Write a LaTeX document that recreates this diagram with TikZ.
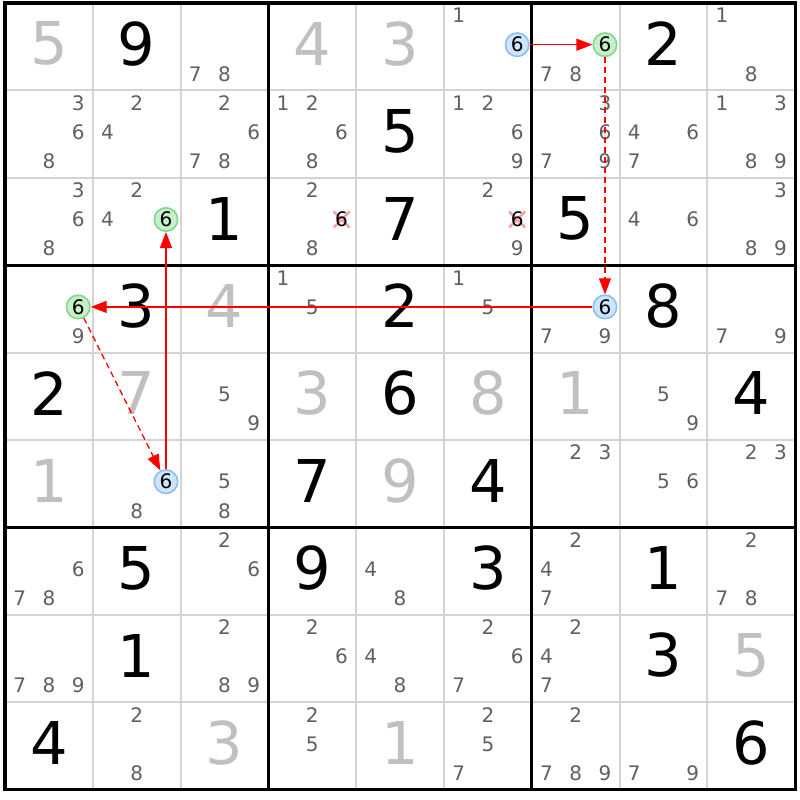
\documentclass[tikz,border=0pt]{standalone}
\usepackage{fontspec}
\setmainfont{DejaVu Sans}
\usetikzlibrary{arrows.meta}
\definecolor{givgray}{RGB}{192,192,192}
\definecolor{candgray}{RGB}{96,96,96}
\definecolor{thingrid}{RGB}{212,212,212}
\definecolor{hlgreenfill}{RGB}{200,240,200}
\definecolor{hlgreendraw}{RGB}{130,215,140}
\definecolor{hlbluefill}{RGB}{205,228,255}
\definecolor{hlbluedraw}{RGB}{140,190,240}
\definecolor{xpink}{RGB}{242,160,160}
\definecolor{chainred}{RGB}{255,0,0}
\tikzset{
  bigdig/.style={font=\fontsize{59}{59}\selectfont, inner sep=0pt},
  solved/.style={bigdig, text=black},
  given/.style={bigdig, text=givgray},
  cand/.style={font=\fontsize{20}{20}\selectfont, inner sep=0pt, text=candgray},
  candblack/.style={cand, text=black},
  hlgreen/.style={circle, minimum size=23.5pt, inner sep=0pt, fill=hlgreenfill, draw=hlgreendraw, line width=1.6pt, font=\fontsize{20}{20}\selectfont, text=black},
  hlblue/.style={circle, minimum size=23.5pt, inner sep=0pt, fill=hlbluefill, draw=hlbluedraw, line width=1.6pt, font=\fontsize{20}{20}\selectfont, text=black},
  thinline/.style={draw=thingrid, line width=2pt},
  thickline/.style={draw=black, line width=3.2pt, line cap=rect},
  xmark/.style={draw=xpink, line width=2.5pt},
  chain/.style={draw=chainred, line width=1.3pt, -{Triangle[length=16pt,width=12pt]}},
  weakchain/.style={chain, dash pattern=on 6pt off 4pt},
}
% cell geometry
\newcommand\cellx[1]{5+(#1-1)*87.8}
\newcommand\celly[1]{3+(#1-1)*87.4}
% big digit: row, col, digit, style
\newcommand\bigdigit[4]{\node[#4] (g#1#2) at ({\cellx{#2}+43.9},{\celly{#1}+43.7-3}) {#3};}
% candidate coordinate: row col pos -> coordinate named p<r><c><pos>
\newcommand\candpos[3]{%
  \pgfmathtruncatemacro\subk{mod(#3-1,3)}%
  \pgfmathtruncatemacro\subm{div(#3-1,3)}%
  \coordinate (p#1#2#3) at ({\cellx{#2}+(\subk+0.5)*29.27},{\celly{#1}+(\subm+0.5)*29.13-2});}
\newcommand\cands[3]{\foreach \pp in {#3}{\candpos{#1}{#2}{\pp}\node[cand] (k#1#2\pp) at (p#1#2\pp) {\pp};}}
\begin{document}
\begin{tikzpicture}[x=1pt,y=-1pt]
\useasboundingbox[fill=white] (0,0) rectangle (800,800);
% thin grid
\foreach \i in {1,2,4,5,7,8}{
  \draw[thinline] ({5+\i*87.8},3) -- ({5+\i*87.8},789.6);
  \draw[thinline] (5,{3+\i*87.4}) -- (795,{3+\i*87.4});
}
% thick grid
\foreach \i in {0,3,6,9}{
  \draw[thickline] ({5+\i*87.8},3) -- ({5+\i*87.8},789.6);
  \draw[thickline] (5,{3+\i*87.4}) -- (795,{3+\i*87.4});
}
% big digits
\bigdigit{1}{1}{5}{given}
\bigdigit{1}{2}{9}{solved}
\bigdigit{1}{4}{4}{given}
\bigdigit{1}{5}{3}{given}
\bigdigit{1}{8}{2}{solved}
\bigdigit{2}{5}{5}{solved}
\bigdigit{3}{3}{1}{solved}
\bigdigit{3}{5}{7}{solved}
\bigdigit{3}{7}{5}{solved}
\bigdigit{4}{2}{3}{solved}
\bigdigit{4}{3}{4}{given}
\bigdigit{4}{5}{2}{solved}
\bigdigit{4}{8}{8}{solved}
\bigdigit{5}{1}{2}{solved}
\bigdigit{5}{2}{7}{given}
\bigdigit{5}{4}{3}{given}
\bigdigit{5}{5}{6}{solved}
\bigdigit{5}{6}{8}{given}
\bigdigit{5}{7}{1}{given}
\bigdigit{5}{9}{4}{solved}
\bigdigit{6}{1}{1}{given}
\bigdigit{6}{4}{7}{solved}
\bigdigit{6}{5}{9}{given}
\bigdigit{6}{6}{4}{solved}
\bigdigit{7}{2}{5}{solved}
\bigdigit{7}{4}{9}{solved}
\bigdigit{7}{6}{3}{solved}
\bigdigit{7}{8}{1}{solved}
\bigdigit{8}{2}{1}{solved}
\bigdigit{8}{8}{3}{solved}
\bigdigit{8}{9}{5}{given}
\bigdigit{9}{1}{4}{solved}
\bigdigit{9}{3}{3}{given}
\bigdigit{9}{5}{1}{given}
\bigdigit{9}{9}{6}{solved}
% candidates
\cands{1}{3}{7,8}
\cands{1}{6}{1}
\cands{1}{7}{7,8}
\cands{1}{9}{1,8}
\cands{2}{1}{3,6,8}
\cands{2}{2}{2,4}
\cands{2}{3}{2,6,7,8}
\cands{2}{4}{1,2,6,8}
\cands{2}{6}{1,2,6,9}
\cands{2}{7}{3,6,7,9}
\cands{2}{8}{4,6,7}
\cands{2}{9}{1,3,8,9}
\cands{3}{1}{3,6,8}
\cands{3}{2}{2,4}
\cands{3}{4}{2,8}
\cands{3}{6}{2,9}
\cands{3}{8}{4,6}
\cands{3}{9}{3,8,9}
\cands{4}{1}{9}
\cands{4}{4}{1,5}
\cands{4}{6}{1,5}
\cands{4}{7}{7,9}
\cands{4}{9}{7,9}
\cands{5}{3}{5,9}
\cands{5}{8}{5,9}
\cands{6}{2}{8}
\cands{6}{3}{5,8}
\cands{6}{7}{2,3}
\cands{6}{8}{5,6}
\cands{6}{9}{2,3}
\cands{7}{1}{6,7,8}
\cands{7}{3}{2,6}
\cands{7}{5}{4,8}
\cands{7}{7}{2,4,7}
\cands{7}{9}{2,7,8}
\cands{8}{1}{7,8,9}
\cands{8}{3}{2,8,9}
\cands{8}{4}{2,6}
\cands{8}{5}{4,8}
\cands{8}{6}{2,6,7}
\cands{8}{7}{2,4,7}
\cands{9}{2}{2,8}
\cands{9}{4}{2,5}
\cands{9}{6}{2,5,7}
\cands{9}{7}{2,7,8,9}
\cands{9}{8}{7,9}
% eliminated candidates
\candpos{3}{4}{6}
\draw[xmark] ([shift={(-8,-8)}]p346) -- ([shift={(8,8)}]p346);
\draw[xmark] ([shift={(-8,8)}]p346) -- ([shift={(8,-8)}]p346);
\node[candblack] (k346) at (p346) {6};
\candpos{3}{6}{6}
\draw[xmark] ([shift={(-8,-8)}]p366) -- ([shift={(8,8)}]p366);
\draw[xmark] ([shift={(-8,8)}]p366) -- ([shift={(8,-8)}]p366);
\node[candblack] (k366) at (p366) {6};
% chain candidates
\candpos{1}{6}{6}\node[hlblue] (a) at (p166) {6};
\candpos{1}{7}{6}\node[hlgreen] (b) at (p176) {6};
\candpos{4}{7}{6}\node[hlblue] (c) at (p476) {6};
\candpos{4}{1}{6}\node[hlgreen] (d) at (p416) {6};
\candpos{6}{2}{6}\node[hlblue] (e) at (p626) {6};
\candpos{3}{2}{6}\node[hlgreen] (f) at (p326) {6};
% chain
\draw[chain] (a) -- (b);
\draw[weakchain] (b) -- (c);
\draw[chain] (c) -- (d);
\draw[weakchain] (d) -- (e);
\draw[chain] (e) -- (f);
\end{tikzpicture}
\end{document}
